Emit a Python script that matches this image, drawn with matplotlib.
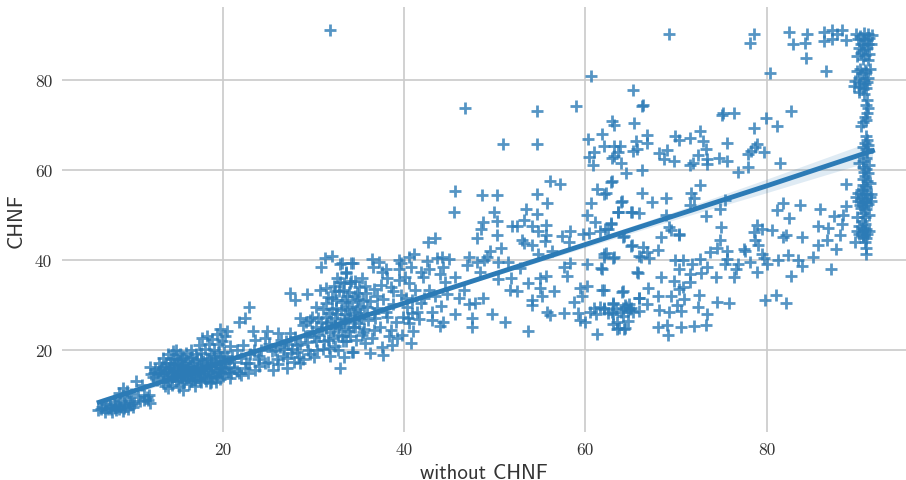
import numpy as np
import matplotlib
matplotlib.use("Agg")
import matplotlib.pyplot as plt

blue = "#2c7bb6"

# points, by region (x, y)
outlier_pts = [(31.8, 91.0)]

bottom_pts = [
    (6.2, 6.6), (6.6, 7.4), (6.9, 6.2), (7.1, 8.0), (7.3, 6.9), (7.5, 7.6), (7.7, 6.3), (7.9, 8.4), (8.0, 7.1),
    (8.2, 6.6), (8.4, 7.9), (8.6, 9.0), (8.7, 7.3), (8.9, 6.5), (9.0, 8.3), (9.2, 7.6), (9.3, 9.6), (9.5, 7.0),
    (9.6, 8.7), (9.8, 10.2), (9.9, 8.0), (10.0, 7.4), (8.9, 11.5), (8.5, 10.4), (9.4, 10.8), (10.4, 13.2),
    (11.0, 12.3), (11.3, 8.9), (11.7, 8.9), (11.2, 10.1), (11.6, 9.6), (11.9, 16.3), (11.8, 10.0), (11.9, 8.2),
    (10.6, 9.5), (10.8, 8.6), (12.0, 14.6), (12.3, 14.0), (12.5, 15.8), (12.7, 13.4), (12.9, 17.0), (13.0, 14.8),
    (13.2, 16.2), (13.3, 13.0), (13.4, 18.2), (13.5, 15.0), (13.6, 12.1), (13.7, 17.2), (13.8, 14.0), (13.9, 11.5),
    (13.9, 19.0), (14.0, 16.0), (14.1, 13.2), (14.2, 18.0), (14.3, 15.1), (14.4, 12.3), (14.5, 19.8), (14.6, 16.9),
    (14.7, 14.2), (14.8, 20.0), (14.8, 13.1), (14.9, 17.9), (15.0, 15.4), (15.1, 11.8), (15.2, 19.1), (15.3, 16.6),
    (15.4, 14.0), (15.5, 18.0), (15.6, 11.1), (15.6, 15.2), (15.7, 12.9), (15.8, 17.1), (15.9, 19.4), (16.0, 14.4),
    (16.1, 16.0), (16.2, 12.4), (16.3, 18.2), (16.4, 15.0), (16.5, 20.0), (16.6, 13.5), (16.7, 17.0), (16.8, 14.9),
    (16.9, 12.0), (17.0, 19.0), (17.1, 16.1), (17.2, 13.8), (17.3, 21.0), (17.4, 15.2), (17.5, 18.0), (17.6, 12.9),
    (17.7, 22.6), (17.8, 16.8), (17.9, 14.4), (18.0, 20.2), (18.1, 13.1), (18.2, 23.1), (18.2, 17.9), (18.3, 15.6),
    (18.4, 21.4), (18.5, 12.6), (18.6, 19.0), (18.7, 13.0), (18.7, 16.4), (18.8, 22.4), (18.9, 14.5), (19.0, 20.1),
    (19.1, 17.6), (19.2, 12.9), (19.3, 23.5), (19.4, 15.2), (19.5, 21.3), (19.6, 24.6), (19.6, 18.5), (19.7, 13.6),
    (19.8, 16.1), (19.9, 22.1), (20.0, 14.3), (20.1, 19.6), (20.2, 23.0), (20.3, 17.0), (20.4, 24.2), (20.5, 15.1),
    (20.7, 13.7), (20.8, 20.9), (21.0, 18.4), (21.2, 16.0), (21.5, 19.9), (21.7, 26.1), (21.8, 14.9), (22.0, 14.4),
    (22.2, 21.1), (22.4, 27.0), (22.5, 17.1), (22.7, 15.0), (22.8, 29.5), (23.0, 19.0), (23.3, 24.2), (23.5, 22.2),
    (23.5, 15.6), (23.8, 18.1), (24.0, 16.4), (24.2, 20.1), (24.6, 22.6), (24.8, 24.1), (25.0, 17.4), (25.5, 15.6),
    (25.4, 19.8), (25.9, 17.9), (26.1, 23.7), (26.3, 20.6), (26.6, 18.6), (26.9, 21.9), (27.0, 15.9), (27.4, 23.7),
    (27.4, 32.6), (27.5, 19.4), (27.8, 17.4), (27.9, 31.1), (28.1, 21.1), (28.4, 18.5), (28.5, 27.0), (28.5, 17.0),
    (28.8, 25.6), (29.0, 23.0), (29.3, 32.4), (29.4, 20.0), (29.6, 26.6), (29.8, 24.1), (30.0, 18.4), (30.2, 21.9),
    (30.3, 29.6), (30.5, 27.1), (30.7, 33.3), (30.8, 38.5), (30.9, 24.6), (31.0, 20.3), (31.2, 40.4), (31.3, 30.5),
    (31.4, 33.7), (31.5, 26.0), (31.6, 22.3), (31.7, 28.1), (31.8, 18.6), (32.0, 40.9), (32.0, 31.6), (32.1, 24.9),
    (32.2, 34.1), (32.3, 27.0), (32.4, 20.9), (32.5, 29.4), (32.6, 36.0), (32.7, 23.4), (32.8, 33.0), (32.9, 39.1),
    (32.9, 15.9), (33.0, 26.0), (33.1, 30.6), (33.2, 21.9), (33.3, 18.5), (33.3, 34.9), (33.4, 28.0), (33.5, 24.6),
    (33.6, 37.0), (33.7, 31.9), (33.8, 26.9), (33.9, 29.6), (34.0, 23.0), (34.1, 35.2), (34.1, 39.3), (34.3, 19.6),
    (34.4, 27.8), (34.5, 32.0), (34.6, 25.2), (34.8, 29.0), (35.0, 34.0), (35.2, 27.0), (35.4, 31.0), (35.5, 24.6),
]

# the solid blob at the lower left and the busy part around x = 25..38
dense_pts = [
    (6.5, 6.9), (7.0, 7.2), (7.6, 6.8), (8.1, 7.8), (8.5, 7.0), (9.1, 7.2), (9.7, 7.8), (10.2, 8.3), (12.4, 14.9),
    (12.8, 15.2), (13.1, 15.6), (13.3, 14.4), (13.6, 16.4), (13.8, 15.4), (14.0, 14.6), (14.1, 17.1), (14.3, 16.3),
    (14.4, 13.9), (14.5, 15.5), (14.6, 18.3), (14.7, 15.9), (14.9, 14.5), (15.0, 16.9), (15.0, 13.5), (15.1, 15.1),
    (15.2, 17.6), (15.3, 14.7), (15.4, 16.2), (15.5, 13.3), (15.5, 15.7), (15.6, 18.6), (15.7, 14.4), (15.8, 16.3),
    (15.9, 13.7), (16.0, 15.5), (16.1, 17.5), (16.2, 14.7), (16.3, 16.4), (16.4, 13.2), (16.5, 15.8), (16.6, 18.4),
    (16.7, 14.3), (16.8, 16.3), (16.9, 13.3), (17.0, 15.4), (17.1, 17.8), (17.2, 14.8), (17.3, 16.5), (17.4, 13.4),
    (17.5, 15.9), (17.6, 19.4), (17.7, 14.6), (17.8, 17.6), (17.9, 15.6), (18.0, 13.7), (18.1, 16.5), (18.3, 14.1),
    (18.4, 18.3), (18.5, 15.2), (18.6, 17.1), (18.8, 14.2), (18.9, 16.0), (19.0, 18.6), (19.1, 15.0), (19.2, 16.9),
    (19.3, 14.1), (19.4, 19.5), (19.5, 16.5), (19.6, 15.3), (19.8, 18.1), (19.9, 14.9), (20.0, 17.0), (20.2, 15.7),
    (20.4, 18.6), (20.6, 16.2), (20.9, 14.9), (21.2, 17.3), (21.5, 15.4), (22.0, 18.2), (22.4, 16.0), (22.9, 17.2),
    (23.4, 20.1), (24.0, 18.7), (24.6, 17.2), (25.1, 21.4), (25.7, 19.9), (26.0, 16.8), (26.4, 22.3), (26.7, 20.2),
    (27.0, 18.3), (27.2, 21.4), (27.6, 20.2), (27.9, 22.8), (28.2, 19.5), (28.5, 21.3), (28.8, 18.1), (29.1, 26.3),
    (29.3, 21.8), (29.6, 19.0), (29.8, 27.4), (30.0, 22.9), (30.2, 25.1), (30.4, 20.1), (30.6, 23.3), (30.8, 26.3),
    (31.0, 29.1), (31.1, 22.0), (31.3, 24.8), (31.4, 27.4), (31.6, 31.8), (31.7, 20.4), (31.8, 24.0), (31.9, 26.4),
    (32.0, 29.2), (32.1, 22.6), (32.3, 33.0), (32.4, 25.3), (32.5, 31.1), (32.6, 27.9), (32.7, 20.0), (32.8, 25.1),
    (32.9, 35.1), (33.0, 28.8), (33.1, 23.2), (33.2, 33.4), (33.3, 26.6), (33.4, 31.0), (33.6, 22.0), (33.7, 29.0),
    (33.8, 24.2), (33.9, 32.9), (34.0, 27.2), (34.2, 30.6), (34.3, 25.1), (34.5, 35.3), (34.6, 28.4), (34.7, 22.3),
    (34.9, 31.3), (35.0, 26.0), (35.1, 29.7), (35.3, 35.9), (35.4, 24.0), (35.6, 28.1), (35.8, 32.6), (36.0, 26.7),
    (36.2, 30.9), (36.4, 22.7), (36.6, 33.6), (36.8, 27.0), (37.0, 29.3), (37.3, 25.2), (37.5, 37.4), (37.7, 31.4),
    (38.0, 28.4), (38.3, 23.1), (38.5, 33.9), (38.8, 30.2), (39.1, 26.1), (39.4, 37.9), (39.6, 32.3), (39.9, 27.3),
]

mid_pts = [
    (33.1, 39.3), (33.6, 37.4), (34.0, 34.8), (34.2, 19.6), (34.3, 39.3), (34.4, 26.7), (34.8, 32.6), (35.3, 23.3),
    (35.7, 21.5), (35.7, 34.1), (35.9, 29.6), (36.2, 19.3), (36.4, 40.1), (36.5, 38.4), (36.6, 24.4), (36.6, 28.1),
    (37.0, 31.9), (37.2, 39.6), (37.4, 34.4), (37.5, 20.7), (37.7, 18.9), (38.0, 38.0), (38.1, 35.9), (38.1, 27.4),
    (38.5, 24.4), (38.6, 21.1), (38.8, 33.0), (39.2, 22.6), (39.4, 40.0), (39.4, 35.6), (39.6, 39.3), (40.1, 36.3),
    (40.3, 29.6), (40.5, 40.6), (40.5, 34.8), (40.5, 25.9), (40.7, 38.5), (40.7, 21.5), (40.8, 28.1), (41.0, 24.1),
    (41.1, 41.3), (41.4, 28.5), (41.8, 37.4), (41.8, 30.4), (42.1, 36.3), (42.5, 39.8), (42.6, 43.9), (42.7, 37.9),
    (42.7, 33.3), (43.1, 28.5), (43.1, 26.7), (43.4, 44.8), (43.4, 31.9), (43.6, 40.4), (43.9, 36.8), (43.9, 25.3),
    (44.0, 29.8), (44.2, 40.6), (44.3, 38.4), (44.3, 26.3), (44.5, 35.0), (44.7, 32.4), (44.9, 40.1), (45.5, 50.7),
    (45.6, 55.3), (45.6, 36.1), (45.6, 27.9), (46.0, 31.5), (46.6, 33.3), (46.9, 38.9), (47.1, 40.7), (47.1, 30.2),
    (47.5, 27.0), (47.5, 25.0), (47.8, 30.5), (48.0, 44.8), (48.0, 39.6), (48.4, 37.4), (48.5, 46.9), (48.6, 54.4),
    (48.7, 48.4), (48.7, 31.6), (48.8, 40.0), (49.1, 40.6), (49.5, 41.9), (49.7, 28.0), (49.9, 50.6), (50.2, 54.3),
    (50.2, 48.7), (50.2, 45.6), (50.4, 39.6), (50.4, 35.7), (50.7, 42.6), (51.1, 26.1), (51.5, 39.5), (51.7, 33.3),
    (51.8, 35.9), (51.9, 47.4), (52.4, 47.4), (52.4, 33.1), (52.8, 38.1), (53.0, 44.4), (53.2, 48.9), (53.2, 43.7),
    (53.4, 51.3), (53.7, 34.8), (53.7, 24.2), (54.1, 47.4), (54.1, 43.3), (54.1, 31.1), (54.1, 29.9), (54.6, 50.1),
    (54.7, 54.7), (54.8, 46.3), (54.8, 41.3), (55.0, 35.9), (55.0, 33.7), (55.2, 31.9), (55.5, 44.1), (55.6, 47.8),
    (55.6, 45.6), (55.6, 36.5), (55.8, 52.6), (55.8, 28.5), (56.1, 57.4), (56.1, 27.8), (56.3, 41.9), (56.5, 33.1),
    (57.2, 56.8), (57.4, 45.2), (57.6, 38.4), (57.6, 28.1), (58.0, 36.5), (58.2, 43.9), (58.3, 46.5), (58.3, 39.3),
    (58.7, 30.7), (59.2, 28.1), (59.4, 33.7), (59.4, 26.7), (59.6, 31.9), (59.7, 45.8), (60.0, 26.1), (60.2, 50.0),
    (60.2, 39.1), (60.2, 34.1), (60.4, 45.9), (60.6, 52.6), (60.9, 29.3), (61.1, 48.5), (61.3, 55.8), (61.3, 23.5),
    (61.7, 38.1), (61.8, 33.3), (62.0, 40.6), (62.0, 29.3), (62.2, 46.9), (62.3, 54.8), (62.3, 41.5), (62.8, 48.1),
    (62.9, 57.4), (62.9, 28.5), (63.1, 30.4), (63.2, 40.6), (63.5, 26.3), (63.6, 50.6), (63.7, 24.8), (64.0, 53.1),
    (64.1, 33.0), (64.2, 29.3), (64.3, 45.2), (64.4, 24.8), (64.5, 29.6), (64.7, 28.8), (64.8, 30.1), (64.9, 29.2),
    (65.0, 29.3), (65.1, 50.7), (65.1, 43.3), (65.7, 37.2), (65.9, 40.9), (65.9, 31.5),
    (60.5, 28.4), (61.2, 27.9), (61.6, 29.6), (62.5, 28.1), (63.4, 29.1), (63.9, 28.4), (64.4, 30.0), (65.2, 28.5),
    (40.2, 31.6), (41.2, 33.2), (39.8, 23.4), (41.6, 26.8), (40.9, 31.1), (40.4, 27.2), (42.2, 31.6),
]

upper_pts = [
    (69.2, 90.1), (78.6, 90.1), (78.2, 88.2), (82.5, 90.5), (84.5, 90.1), (82.9, 87.9), (84.3, 88.1), (84.4, 84.7),
    (80.4, 81.4), (86.6, 81.8), (86.4, 90.5), (87.2, 91.0), (86.4, 88.5), (87.2, 89.0), (87.8, 90.0), (88.3, 90.9),
    (88.8, 88.7), (65.3, 77.7), (66.3, 74.1), (66.4, 74.4), (62.9, 70.7), (63.2, 69.9), (65.4, 70.3), (75.1, 72.2),
    (75.2, 72.5), (76.4, 72.6), (82.7, 73.1), (79.9, 71.4), (78.6, 69.3), (81.2, 69.6), (72.7, 68.5), (69.9, 67.5),
    (70.3, 66.6), (71.5, 67.1), (73.0, 66.4), (75.6, 65.9), (79.0, 65.7), (78.7, 65.1), (78.3, 64.2), (78.0, 63.4),
    (79.7, 63.9), (73.3, 64.6), (72.4, 63.3), (73.4, 62.4), (73.4, 61.3), (74.7, 62.7), (75.6, 62.0), (71.5, 61.1),
    (71.9, 61.4), (77.9, 60.7), (76.9, 59.4), (81.5, 61.4), (68.1, 63.7), (69.0, 64.4), (68.7, 62.4), (69.8, 62.0),
    (66.8, 67.6), (66.8, 65.9), (65.6, 66.3), (65.2, 64.2), (65.7, 64.6), (61.8, 67.9), (62.1, 65.3), (63.2, 65.3),
    (63.8, 65.3), (63.6, 63.9), (62.9, 62.7), (63.2, 63.1), (63.9, 61.4), (66.2, 59.9), (64.5, 59.3), (62.8, 57.3),
    (72.6, 56.6), (88.8, 56.8), (60.6, 80.8), (60.3, 66.8), (61.0, 64.0), (60.8, 61.0), (60.4, 62.8), (59.0, 74.2),
    (54.6, 73.1), (46.7, 73.7), (50.9, 65.7), (54.6, 65.7),
]

lower_right_pts = [
    (62.1, 54.7), (66.3, 54.9), (63.9, 52.8), (67.3, 52.8), (68.9, 53.8), (71.7, 54.8), (72.0, 53.8), (71.6, 52.1),
    (75.4, 53.2), (74.9, 51.2), (73.3, 49.7), (63.6, 50.6), (65.0, 50.7), (65.9, 50.4), (68.9, 49.9), (62.8, 48.0),
    (61.6, 46.5), (62.5, 46.9), (69.2, 47.3), (69.4, 46.7), (70.3, 45.8), (70.3, 45.4), (64.2, 45.0), (68.3, 45.0),
    (75.0, 47.3), (74.9, 44.3), (74.5, 42.7), (73.8, 41.7), (75.6, 42.0), (65.0, 43.0), (66.4, 42.8), (68.0, 42.1),
    (66.8, 41.7), (66.1, 40.7), (67.0, 40.4), (62.1, 41.3), (63.1, 40.4), (61.8, 38.0), (77.5, 42.4), (77.6, 41.9),
    (78.6, 46.1), (79.0, 47.8), (79.5, 46.9), (80.6, 46.7), (78.7, 44.4), (79.1, 43.2), (79.5, 41.3), (79.7, 40.4),
    (81.1, 51.1), (81.8, 52.7), (83.7, 52.1), (82.5, 49.3), (85.9, 51.3), (87.4, 49.7), (88.4, 49.9), (88.8, 51.9),
    (88.3, 48.0), (85.7, 47.6), (86.8, 47.1), (81.8, 45.0), (82.1, 45.6), (83.9, 45.0), (85.7, 43.2), (86.7, 44.3),
    (88.1, 45.4), (87.7, 42.4), (85.1, 40.7), (82.4, 41.0), (81.3, 40.0), (83.5, 39.9), (83.9, 38.7), (80.0, 39.0),
    (87.1, 38.0), (82.7, 36.4), (78.9, 37.2), (78.2, 39.5), (76.9, 39.1), (75.6, 40.2), (75.4, 39.0), (76.6, 38.0),
    (76.4, 36.1), (74.4, 36.1), (72.7, 40.2), (73.4, 38.4), (72.8, 37.0), (71.6, 36.9), (69.9, 39.9), (70.8, 39.9),
    (70.3, 38.0), (71.8, 39.1), (69.8, 35.2), (68.4, 36.3), (65.8, 37.1), (71.5, 35.0), (70.8, 33.9), (70.3, 33.6),
    (66.9, 33.8), (64.0, 32.8), (62.0, 33.3), (72.5, 32.1), (69.4, 31.9), (68.0, 31.9), (65.9, 31.5), (70.9, 31.3),
    (74.5, 30.7), (75.9, 30.5), (79.8, 31.0), (81.0, 32.2), (82.2, 30.4), (66.8, 30.2), (70.1, 30.0), (72.4, 29.5),
    (68.1, 28.9), (70.5, 28.7), (69.2, 28.4), (65.9, 28.7), (73.4, 27.9), (63.1, 30.2), (62.1, 29.1), (63.1, 28.0),
    (64.2, 27.6), (64.7, 26.5), (63.1, 25.8), (63.5, 24.7), (64.3, 24.6), (68.0, 25.0), (69.0, 25.6), (69.1, 23.3),
    (70.5, 25.0), (72.0, 25.4), (73.3, 25.6),
]

column_pts = [
    (89.9, 90.2), (90.3, 89.6), (90.8, 90.4), (91.2, 90.0), (91.6, 89.9), (90.1, 88.9), (90.6, 89.0), (91.0, 88.8),
    (91.3, 89.2), (90.4, 87.9), (90.8, 87.6), (91.2, 87.9), (91.5, 88.0), (90.2, 86.9), (90.7, 86.6), (91.1, 86.9),
    (90.4, 85.8), (90.9, 85.4), (91.3, 85.7), (90.0, 85.2), (90.6, 84.6), (91.2, 84.4), (90.3, 82.4), (90.9, 82.2),
    (91.4, 82.4), (90.0, 81.9), (90.5, 81.4), (91.0, 81.6), (90.2, 80.4), (90.8, 80.0), (91.2, 80.3), (89.8, 79.6),
    (90.3, 79.3), (90.9, 79.0), (91.1, 79.5), (89.7, 78.6), (90.2, 78.4), (90.7, 77.9), (91.0, 78.2), (90.2, 77.2),
    (90.8, 76.7), (91.1, 75.4), (91.0, 74.4), (91.2, 73.6), (91.1, 72.6), (90.9, 71.7), (91.0, 71.1), (90.7, 70.6),
    (90.4, 69.6), (91.0, 67.4), (91.1, 66.7), (90.9, 65.9), (91.2, 65.4), (90.7, 65.0), (91.0, 64.5), (91.1, 64.0),
    (90.2, 61.4), (90.7, 61.9), (91.0, 62.6), (91.3, 61.0), (90.6, 60.7), (91.0, 60.2), (90.8, 59.6), (91.2, 59.2),
    (90.9, 58.6), (90.7, 58.0), (91.1, 57.5), (91.4, 57.0), (90.6, 56.7), (91.0, 56.2), (90.4, 55.6), (90.8, 55.4),
    (90.1, 54.8), (90.6, 54.5), (91.1, 54.7), (91.5, 54.6), (89.9, 54.0), (90.4, 53.8), (90.9, 53.6), (91.4, 53.9),
    (90.1, 53.1), (90.6, 52.8), (91.0, 52.9), (91.5, 53.1), (90.3, 52.2), (90.8, 52.0), (91.2, 52.3), (90.4, 51.4),
    (91.0, 51.2), (90.7, 50.4), (90.0, 49.6), (90.9, 49.4), (91.3, 49.9), (90.5, 48.6), (90.9, 47.9), (90.2, 47.4),
    (90.6, 47.0), (91.0, 46.9), (90.0, 46.3), (90.5, 46.1), (90.9, 46.4), (91.3, 46.3), (90.2, 45.7), (90.7, 45.5),
    (91.1, 45.7), (90.6, 45.0), (91.0, 44.8), (89.8, 43.9), (90.9, 44.0), (91.0, 42.7), (91.0, 41.2),
]

# fit line and its confidence band
line_x = [6.3, 30.0, 50.0, 70.0, 80.0, 91.7]
line_y = [8.4, 23.9, 36.9, 49.9, 56.4, 64.2]
band_lo = [7.7, 23.5, 36.5, 49.0, 54.9, 62.0]
band_hi = [9.1, 24.3, 37.3, 50.8, 57.9, 66.4]

x_ticks = [20, 40, 60, 80]
y_ticks = [20, 40, 60, 80]

all_pts = np.array(bottom_pts + dense_pts + mid_pts + upper_pts + lower_right_pts + column_pts + outlier_pts)

fig = plt.figure(figsize=(9.06, 4.81), dpi=100)
ax = fig.add_axes([62 / 906, 1 - 433 / 481, (906 - 62) / 906, (433 - 8) / 481])

ax.scatter(all_pts[:, 0], all_pts[:, 1], marker="+", s=66, linewidths=2, color=blue, alpha=0.8, zorder=3)
ax.fill_between(line_x, band_lo, band_hi, color=blue, alpha=0.15, lw=0, zorder=3)
ax.plot(line_x, line_y, color=blue, lw=3.5, zorder=4)

ax.set_xlim(2.2, 95.4)
ax.set_ylim(1.8, 96.1)
ax.set_xticks(x_ticks)
ax.set_yticks(y_ticks)
ax.grid(color="#cccccc", lw=1.25)
ax.set_axisbelow(True)
for s in ax.spines.values():
    s.set_visible(False)
ax.tick_params(length=0, labelsize=12.5, labelcolor="#333333", pad=7)
for lab in ax.get_xticklabels() + ax.get_yticklabels():
    lab.set_fontfamily("cmr10")

ax.set_xlabel("without CHNF", fontsize=15, fontfamily="cmss10", color="#333333", labelpad=4)
ax.set_ylabel("CHNF", fontsize=15, fontfamily="cmss10", color="#333333", labelpad=7)

plt.savefig("out.png", dpi=100)
